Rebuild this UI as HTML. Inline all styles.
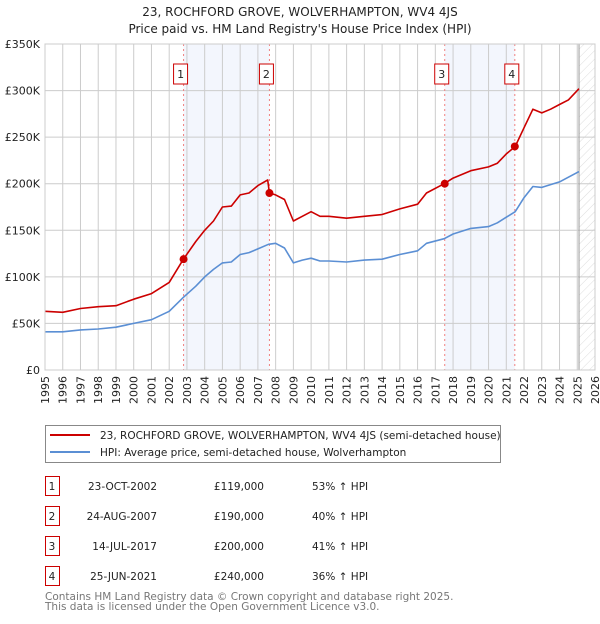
<!DOCTYPE html>
<html><head><meta charset="utf-8"><style>
body{margin:0;background:#fff;font-family:"DejaVu Sans","Liberation Sans",sans-serif;}
svg text{font-family:"DejaVu Sans","Liberation Sans",sans-serif;}
</style></head><body>
<svg id="chart" width="600" height="620" viewBox="0 0 600 620">
<defs><pattern id="hatch" width="6" height="6" patternUnits="userSpaceOnUse" patternTransform="rotate(45)"><line x1="0" y1="0" x2="0" y2="6" stroke="#ddd" stroke-width="1"/></pattern></defs>
<text x="300" y="16" text-anchor="middle" font-size="12" fill="#222">23, ROCHFORD GROVE, WOLVERHAMPTON, WV4 4JS</text>
<text x="300" y="33" text-anchor="middle" font-size="12" fill="#222">Price paid vs. HM Land Registry's House Price Index (HPI)</text>
<g id="plot"></g>
<g>
<rect x="45.5" y="425.5" width="455" height="37" fill="#fff" stroke="#888"/>
<line x1="50" y1="435" x2="90" y2="435" stroke="#cc0000" stroke-width="2"/>
<text x="100" y="439" font-size="10.5" fill="#222">23, ROCHFORD GROVE, WOLVERHAMPTON, WV4 4JS (semi-detached house)</text>
<line x1="50" y1="452" x2="90" y2="452" stroke="#5b8fd4" stroke-width="2"/>
<text x="100" y="456" font-size="10.5" fill="#222">HPI: Average price, semi-detached house, Wolverhampton</text>
</g>
<g id="table"></g>
<text x="45" y="600" font-size="10.5" fill="#777">Contains HM Land Registry data © Crown copyright and database right 2025.</text>
<text x="45" y="610" font-size="10.5" fill="#777">This data is licensed under the Open Government Licence v3.0.</text>
</svg>
<script>
const yTicks=[0,50,100,150,200,250,300,350];
const yTickLabels=["£0","£50K","£100K","£150K","£200K","£250K","£300K","£350K"];
const years=[1995,1996,1997,1998,1999,2000,2001,2002,2003,2004,2005,2006,2007,2008,2009,2010,2011,2012,2013,2014,2015,2016,2017,2018,2019,2020,2021,2022,2023,2024,2025,2026];
const hpiT=[1995,1996,1997,1998,1999,2000,2001,2002,2002.8,2003.5,2004,2004.5,2005,2005.5,2006,2006.5,2007,2007.6,2008,2008.5,2009,2009.5,2010,2010.5,2011,2012,2013,2014,2015,2016,2016.5,2017.5,2018,2019,2020,2020.5,2021,2021.5,2022,2022.5,2023,2023.5,2024,2024.5,2025.1];
const hpiV=[41,41,43,44,46,50,54,63,78,90,100,108,115,116,124,126,130,135,136,131,115,118,120,117,117,116,118,119,124,128,136,141,146,152,154,158,164,170,185,197,196,199,202,207,213];
const propT=[1995,1996,1997,1998,1999,2000,2001,2002,2002.8,2003.5,2004,2004.5,2005,2005.5,2006,2006.5,2007,2007.55,2007.65,2008,2008.5,2009,2009.5,2010,2010.5,2011,2012,2013,2014,2015,2016,2016.5,2017.5,2018,2019,2020,2020.5,2021,2021.5,2022,2022.5,2023,2023.5,2024,2024.5,2025.1];
const propV=[63,62,66,68,69,76,82,94,119,138,150,160,175,176,188,190,198,204,190,188,183,160,165,170,165,165,163,165,167,173,178,190,200,206,214,218,222,232,240,260,280,276,280,285,290,302];
const saleT=[2002.81,2007.65,2017.53,2021.48];
const saleV=[119,190,200,240];
const saleLabels=["1","2","3","4"];
const saleDates=["23-OCT-2002","24-AUG-2007","14-JUL-2017","25-JUN-2021"];
const salePrices=["£119,000","£190,000","£200,000","£240,000"];
const saleHpi=["53% ↑ HPI","40% ↑ HPI","41% ↑ HPI","36% ↑ HPI"];
const NS="http://www.w3.org/2000/svg";
const X0=45,X1=595,Y0=370,Y1=44;
const xs=t=>X0+(t-1995)/(2026-1995)*(X1-X0);
const ys=v=>Y0-v/350*(Y0-Y1);
function mk(tag,attrs,parent){const e=document.createElementNS(NS,tag);for(const k in attrs)e.setAttribute(k,attrs[k]);parent.appendChild(e);return e;}
const plot=document.getElementById('plot');
for(let i=0;i<saleT.length;i+=2){
 const r=mk('rect',{x:xs(saleT[i]),y:Y1,width:xs(saleT[i+1])-xs(saleT[i]),height:Y0-Y1,fill:'#f3f6fd'},plot);
 
 
}
const hz=mk('rect',{x:xs(2025.1),y:Y1,width:X1-xs(2025.1),height:Y0-Y1,fill:'url(#hatch)'},plot);


years.forEach(y=>{
 const l=mk('line',{x1:xs(y),x2:xs(y),y1:Y1,y2:Y0,stroke:'#ccc','stroke-width':1},plot);
 
 
 const t=mk('text',{x:0,y:0,'font-size':11,fill:'#222','text-anchor':'end',transform:`translate(${xs(y)+4},${Y0+6}) rotate(-90)`},plot);
 t.textContent=y;
 
 
});
yTicks.forEach((v,i)=>{
 const l=mk('line',{x1:X0,x2:X1,y1:ys(v),y2:ys(v),stroke:'#ccc','stroke-width':1},plot);
 
 
 const t=mk('text',{x:X0-5,y:ys(v)+4,'font-size':11,fill:'#222','text-anchor':'end'},plot);
 t.textContent=yTickLabels[i];
 
 
});
const vl=mk('line',{x1:xs(2025.1),x2:xs(2025.1),y1:Y1,y2:Y0,stroke:'#999','stroke-width':1},plot);


saleT.forEach((t,i)=>{
 const l=mk('line',{x1:xs(t),x2:xs(t),y1:Y1,y2:Y0,stroke:'#f08080','stroke-width':1,'stroke-dasharray':'2,3'},plot);
 
 
});
function line(T,V,color,name){
 const d=T.map((t,i)=>(i?'L':'M')+xs(t).toFixed(1)+','+ys(V[i]).toFixed(1)).join('');
 const p=mk('path',{d:d,fill:'none',stroke:color,'stroke-width':1.6,'stroke-linejoin':'round'},plot);
 
 
}
line(hpiT,hpiV,'#5b8fd4','hpi-line');
line(propT,propV,'#cc0000','property-line');
saleT.forEach((t,i)=>{
 const c=mk('circle',{cx:xs(t),cy:ys(saleV[i]),r:4,fill:'#cc0000'},plot);
 
 
 const bx=xs(t)-3;
 const r=mk('rect',{x:bx-7,y:64,width:14,height:20,fill:'#fff',stroke:'#cc0000'},plot);
 
 
 const tx=mk('text',{x:bx,y:78,'font-size':11,fill:'#222','text-anchor':'middle'},plot);
 tx.textContent=saleLabels[i];
 
 
});
mk('rect',{x:X0,y:Y1,width:X1-X0,height:Y0-Y1,fill:'none',stroke:'#ccc'},plot);
const tb=document.getElementById('table');
saleLabels.forEach((s,i)=>{
 const y=476+i*30;
 const r=mk('rect',{x:45.5,y:y+0.5,width:14,height:19,fill:'#fff',stroke:'#cc0000'},tb);
 
 
 const vals=[[s,52,'middle'],[saleDates[i],157,'end'],[salePrices[i],264,'end'],[saleHpi[i],312,'start']];
 const nm=['table-sale-number','table-sale-date','table-sale-price','table-sale-hpi'];
 vals.forEach((v,j)=>{
  const t=mk('text',{x:v[1],y:y+14,'font-size':10.5,fill:'#222','text-anchor':v[2]},tb);
  t.textContent=v[0];
  
  
 });
});
</script>
</body></html>
